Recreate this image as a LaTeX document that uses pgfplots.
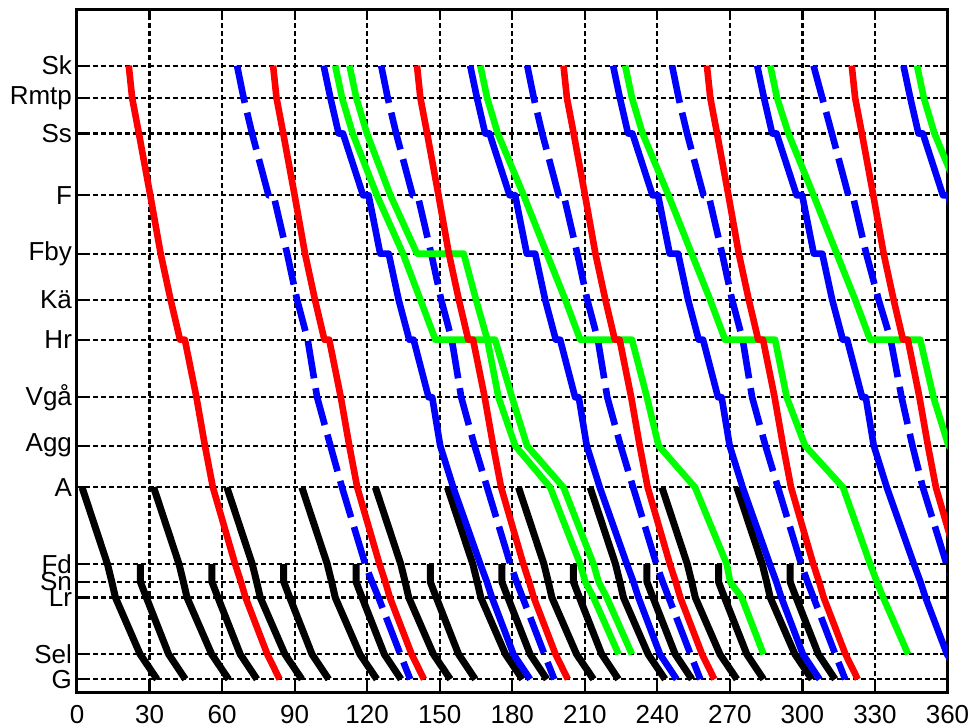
\documentclass[border=0pt]{standalone}
\usepackage{fontspec}
\setmainfont{Liberation Sans}
\usepackage{pgfplots}
\pgfplotsset{compat=1.18}

\begin{document}
\begin{tikzpicture}
\path[use as bounding box] (-38.5pt,-17.5pt) rectangle (447.5pt,346pt);
\begin{axis}[
  at={(0pt,0pt)}, anchor=south west,
  width=435.25pt, height=341.35pt, scale only axis,
  xmin=0, xmax=360, ymin=0, ymax=681.7,
  xtick={0,30,...,360},
  ytick={12.7,37.7,94.3,110.0,127.7,204.3,246.0,294.3,351.8,391.8,437.7,496.0,557.7,593.3,625.4},
  yticklabels={G,Sel,Lr,Sn,Fd,A,Agg,Vgå,Hr,Kä,Fby,F,Ss,Rmtp,Sk},
  grid=major,
  major grid style={black, line width=1.1pt, dash pattern=on 2.4pt off 1.6pt},
  axis line style={line width=1.5pt},
  tick style={black, line width=1.1pt},
  major tick length=4pt,
  tick align=inside,
  tick label style={font=\fontsize{13}{15}\selectfont},
  yticklabel style={xshift=1pt},
  xticklabel style={yshift=-3pt},
  /pgf/number format/assume math mode=true,
  every axis plot/.append style={line width=3.3pt, line join=round},
]
% black: local trains A -> G
\addplot[black, line width=3.5pt] coordinates {(2.1,204.3) (12.6,127.7) (14.4,110.0) (15.9,94.3) (26.1,37.7) (33.1,12.7)};
\addplot[black, line width=3.5pt] coordinates {(31.7,204.3) (42.2,127.7) (44.0,110.0) (45.5,94.3) (55.7,37.7) (62.7,12.7)};
\addplot[black, line width=3.5pt] coordinates {(62.0,204.3) (72.5,127.7) (74.3,110.0) (75.8,94.3) (86.0,37.7) (93.0,12.7)};
\addplot[black, line width=3.5pt] coordinates {(93.0,204.3) (103.5,127.7) (105.3,110.0) (106.8,94.3) (117.0,37.7) (124.0,12.7)};
\addplot[black, line width=3.5pt] coordinates {(123.4,204.3) (133.9,127.7) (135.7,110.0) (137.2,94.3) (147.4,37.7) (154.4,12.7)};
\addplot[black, line width=3.5pt] coordinates {(153.2,204.3) (163.7,127.7) (165.5,110.0) (167.0,94.3) (177.2,37.7) (184.2,12.7)};
\addplot[black, line width=3.5pt] coordinates {(182.6,204.3) (193.1,127.7) (194.9,110.0) (196.4,94.3) (206.6,37.7) (213.6,12.7)};
\addplot[black, line width=3.5pt] coordinates {(212.2,204.3) (222.7,127.7) (224.5,110.0) (226.0,94.3) (236.2,37.7) (243.2,12.7)};
\addplot[black, line width=3.5pt] coordinates {(241.9,204.3) (252.4,127.7) (254.2,110.0) (255.7,94.3) (265.9,37.7) (272.9,12.7)};
\addplot[black, line width=3.5pt] coordinates {(272.9,204.3) (283.4,127.7) (285.2,110.0) (286.7,94.3) (296.9,37.7) (303.9,12.7)};
% black: short trains Fd -> G
\addplot[black, line width=3.5pt] coordinates {(26.2,127.7) (26.2,110.0) (28.7,94.3) (37.9,37.7) (44.8,12.7)};
\addplot[black, line width=3.5pt] coordinates {(55.8,127.7) (55.8,110.0) (58.3,94.3) (67.5,37.7) (74.4,12.7)};
\addplot[black, line width=3.5pt] coordinates {(85.5,127.7) (85.5,110.0) (88.0,94.3) (97.2,37.7) (104.1,12.7)};
\addplot[black, line width=3.5pt] coordinates {(115.4,127.7) (115.4,110.0) (117.9,94.3) (127.1,37.7) (134.0,12.7)};
\addplot[black, line width=3.5pt] coordinates {(146.1,127.7) (146.1,110.0) (148.6,94.3) (157.8,37.7) (164.7,12.7)};
\addplot[black, line width=3.5pt] coordinates {(175.7,127.7) (175.7,110.0) (178.2,94.3) (187.4,37.7) (194.3,12.7)};
\addplot[black, line width=3.5pt] coordinates {(205.3,127.7) (205.3,110.0) (207.8,94.3) (217.0,37.7) (223.9,12.7)};
\addplot[black, line width=3.5pt] coordinates {(235.7,127.7) (235.7,110.0) (238.2,94.3) (247.4,37.7) (254.3,12.7)};
\addplot[black, line width=3.5pt] coordinates {(265.3,127.7) (265.3,110.0) (267.8,94.3) (277.0,37.7) (283.9,12.7)};
\addplot[black, line width=3.5pt] coordinates {(294.9,127.7) (294.9,110.0) (297.4,94.3) (306.6,37.7) (313.5,12.7)};
% blue dashed
\addplot[blue, dash pattern=on 19pt off 5pt] coordinates {(66.2,625.4) (68.9,593.3) (72.4,557.7) (79.2,496.0) (81.3,496.0) (86.9,437.7) (91.0,391.8) (95.4,351.8) (99.3,294.3) (104.8,246.0) (109.6,204.3) (119.2,127.7) (122.0,110.0) (124.7,94.3) (133.7,37.7) (137.8,12.7)};
\addplot[blue, dash pattern=on 19pt off 5pt] coordinates {(125.8,625.4) (128.5,593.3) (132.0,557.7) (138.8,496.0) (140.9,496.0) (146.5,437.7) (150.6,391.8) (155.0,351.8) (158.9,294.3) (164.4,246.0) (169.6,204.3) (179.2,127.7) (181.8,110.0) (184.3,94.3) (193.3,37.7) (197.4,12.7)};
\addplot[blue, dash pattern=on 19pt off 5pt] coordinates {(186.2,625.4) (188.9,593.3) (192.4,557.7) (199.2,496.0) (201.3,496.0) (206.9,437.7) (211.0,391.8) (215.4,351.8) (219.3,294.3) (224.8,246.0) (230.0,204.3) (239.6,127.7) (242.2,110.0) (244.7,94.3) (253.7,37.7) (257.8,12.7)};
\addplot[blue, dash pattern=on 19pt off 5pt] coordinates {(246.1,625.4) (248.8,593.3) (252.3,557.7) (259.1,496.0) (261.2,496.0) (266.8,437.7) (270.9,391.8) (275.3,351.8) (279.2,294.3) (284.7,246.0) (289.9,204.3) (299.5,127.7) (302.1,110.0) (304.6,94.3) (313.6,37.7) (317.7,12.7)};
\addplot[blue, dash pattern=on 19pt off 5pt] coordinates {(304.6,625.4) (308.2,593.3) (312.2,557.7) (319.0,496.0) (320.8,496.0) (326.4,437.7) (331.5,391.8) (336.5,351.8) (341.0,294.3) (345.5,246.0) (349.8,204.3) (359.6,127.7) (362.2,110.0) (364.7,94.3) (373.7,37.7) (377.8,12.7)};
% blue solid
\addplot[blue] coordinates {(102.0,625.4) (104.8,593.3) (108.2,557.7) (110.0,557.7) (118.3,496.0) (120.6,496.0) (125.4,437.7) (128.9,437.7) (133.0,391.8) (137.4,351.8) (139.2,351.8) (145.4,294.3) (146.9,294.3) (150.2,246.0) (155.6,204.3) (166.8,127.7) (169.5,110.0) (171.6,94.3) (180.5,37.7) (187.4,12.7)};
\addplot[blue] coordinates {(162.6,625.4) (165.4,593.3) (168.8,557.7) (170.6,557.7) (178.9,496.0) (181.2,496.0) (186.0,437.7) (189.5,437.7) (193.6,391.8) (198.0,351.8) (199.8,351.8) (206.0,294.3) (207.5,294.3) (210.8,246.0) (216.2,204.3) (227.4,127.7) (230.1,110.0) (232.2,94.3) (241.1,37.7) (248.0,12.7)};
\addplot[blue] coordinates {(221.7,625.4) (224.5,593.3) (227.9,557.7) (229.7,557.7) (238.0,496.0) (240.3,496.0) (245.1,437.7) (248.6,437.7) (252.7,391.8) (257.1,351.8) (258.9,351.8) (265.1,294.3) (266.6,294.3) (269.9,246.0) (275.3,204.3) (286.5,127.7) (289.2,110.0) (291.3,94.3) (300.2,37.7) (307.1,12.7)};
\addplot[blue] coordinates {(281.3,625.4) (284.1,593.3) (287.5,557.7) (289.3,557.7) (297.6,496.0) (299.9,496.0) (304.7,437.7) (308.2,437.7) (312.3,391.8) (316.7,351.8) (318.5,351.8) (324.7,294.3) (326.2,294.3) (329.5,246.0) (334.9,204.3) (346.1,127.7) (348.8,110.0) (350.9,94.3) (359.8,37.7) (366.7,12.7)};
\addplot[blue] coordinates {(341.8,625.4) (344.6,593.3) (348.0,557.7) (349.8,557.7) (358.1,496.0) (360.4,496.0) (365.2,437.7) (368.7,437.7) (372.8,391.8)};
% green
\addplot[green] coordinates {(106.8,625.4) (109.6,593.3) (114.0,557.7) (124.0,496.0) (134.8,437.7) (142.0,391.8) (148.2,351.8) (172.9,351.8) (179.9,294.3) (186.1,246.0) (201.2,204.3) (213.6,127.7) (215.7,110.0) (219.1,94.3) (229.5,37.7)};
\addplot[green] coordinates {(112.7,625.4) (115.5,593.3) (119.9,557.7) (129.6,496.0) (140.6,437.7) (159.9,437.7) (165.0,391.8) (169.7,351.8) (174.3,294.3) (181.2,246.0) (195.7,204.3) (208.1,127.7) (210.2,110.0) (213.6,94.3) (224.0,37.7)};
\addplot[green] coordinates {(166.8,625.4) (169.6,593.3) (174.0,557.7) (184.7,496.0) (194.3,437.7) (201.9,391.8) (208.1,351.8) (229.5,351.8) (235.7,294.3) (240.5,246.0) (255.6,204.3) (268.7,127.7) (270.1,110.0) (274.9,94.3) (283.9,37.7)};
\addplot[green] coordinates {(226.7,625.4) (229.5,593.3) (233.9,557.7) (244.6,496.0) (254.2,437.7) (261.8,391.8) (268.0,351.8) (288.7,351.8) (293.5,294.3) (301.1,246.0) (316.8,204.3) (328.0,127.7) (330.8,110.0) (333.4,94.3) (343.7,37.7)};
\addplot[green] coordinates {(286.7,625.4) (289.5,593.3) (294.2,557.7) (304.6,496.0) (314.2,437.7) (321.8,391.8) (328.0,351.8) (348.7,351.8) (354.2,294.3) (360.4,246.0) (375.5,204.3)};
\addplot[green] coordinates {(347.4,625.4) (350.2,593.3) (354.6,557.7) (365.3,496.0) (374.9,437.7)};
% red
\addplot[red] coordinates {(21.4,625.4) (22.8,593.3) (25.6,557.7) (30.3,496.0) (34.6,437.7) (38.7,391.8) (42.6,351.8) (44.6,351.8) (49.4,294.3) (52.9,246.0) (56.2,204.3) (65.4,127.7) (67.8,110.0) (69.7,94.3) (78.7,37.7) (83.8,12.7)};
\addplot[red] coordinates {(81.1,625.4) (82.5,593.3) (85.3,557.7) (90.0,496.0) (94.3,437.7) (98.4,391.8) (102.3,351.8) (104.3,351.8) (109.1,294.3) (112.6,246.0) (115.9,204.3) (125.1,127.7) (127.5,110.0) (129.4,94.3) (138.4,37.7) (143.5,12.7)};
\addplot[red] coordinates {(140.6,625.4) (142.0,593.3) (144.8,557.7) (149.5,496.0) (153.8,437.7) (157.9,391.8) (161.8,351.8) (163.8,351.8) (168.6,294.3) (172.1,246.0) (175.4,204.3) (184.6,127.7) (187.0,110.0) (188.9,94.3) (197.9,37.7) (203.0,12.7)};
\addplot[red] coordinates {(201.2,625.4) (202.6,593.3) (205.4,557.7) (210.1,496.0) (214.4,437.7) (218.5,391.8) (222.4,351.8) (224.4,351.8) (229.2,294.3) (232.7,246.0) (236.0,204.3) (245.2,127.7) (247.6,110.0) (249.5,94.3) (258.5,37.7) (263.6,12.7)};
\addplot[red] coordinates {(260.5,625.4) (261.9,593.3) (264.7,557.7) (269.4,496.0) (273.7,437.7) (277.8,391.8) (281.7,351.8) (283.7,351.8) (288.5,294.3) (292.0,246.0) (295.3,204.3) (304.5,127.7) (306.9,110.0) (308.8,94.3) (317.8,37.7) (322.9,12.7)};
\addplot[red] coordinates {(320.4,625.4) (321.8,593.3) (324.6,557.7) (329.3,496.0) (333.6,437.7) (337.7,391.8) (341.6,351.8) (343.6,351.8) (348.4,294.3) (351.9,246.0) (355.2,204.3) (364.4,127.7) (366.8,110.0) (368.7,94.3)};
\end{axis}
\end{tikzpicture}
\end{document}
